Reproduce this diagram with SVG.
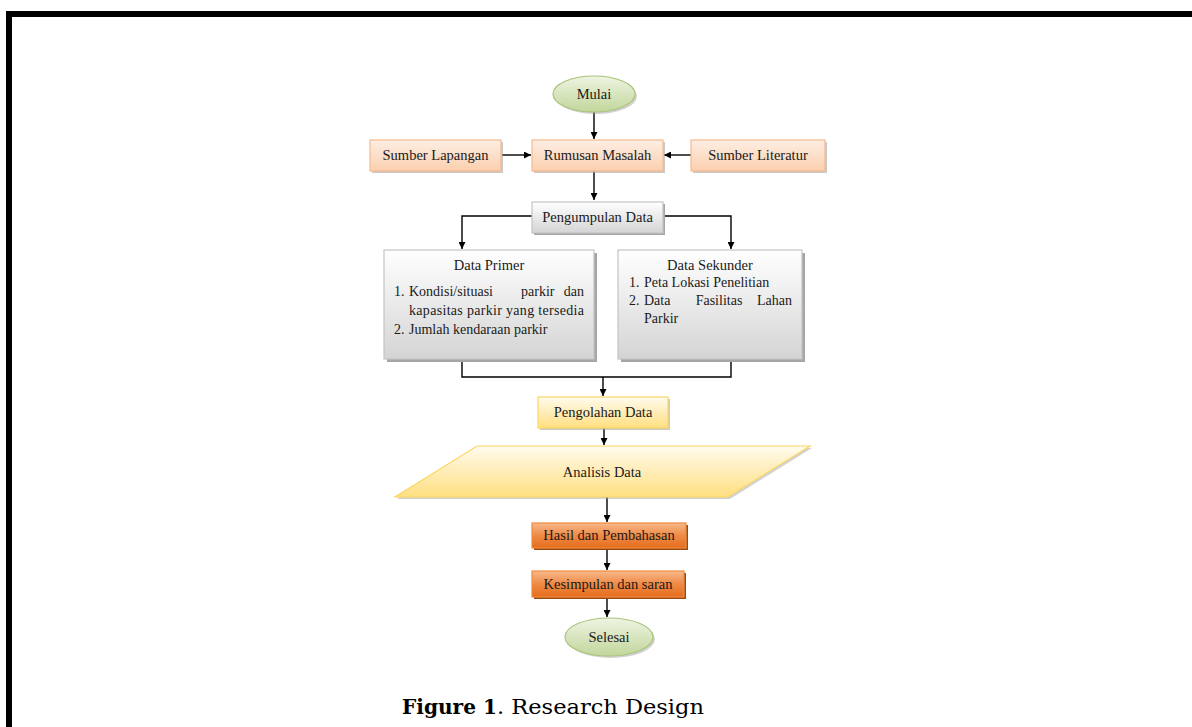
<svg xmlns="http://www.w3.org/2000/svg" width="1192" height="727" viewBox="0 0 1192 727">
<defs>
<linearGradient id="gGreen" x1="0" y1="0" x2="0" y2="1"><stop offset="0" stop-color="#eef4e2"/><stop offset="1" stop-color="#c2d69b"/></linearGradient>
<linearGradient id="gPeach" x1="0" y1="0" x2="0" y2="1"><stop offset="0" stop-color="#fdeee4"/><stop offset="1" stop-color="#fbcfae"/></linearGradient>
<linearGradient id="gGray" x1="0" y1="0" x2="0" y2="1"><stop offset="0" stop-color="#ffffff"/><stop offset="1" stop-color="#d4d4d4"/></linearGradient>
<linearGradient id="gYellow" x1="0" y1="0" x2="0" y2="1"><stop offset="0" stop-color="#fffbee"/><stop offset="1" stop-color="#ffdf80"/></linearGradient>
<linearGradient id="gOrange" x1="0" y1="0" x2="0" y2="1"><stop offset="0" stop-color="#f7b98c"/><stop offset="0.5" stop-color="#ef8a45"/><stop offset="1" stop-color="#e56d1d"/></linearGradient>
<marker id="arr" viewBox="0 0 10 10" refX="10" refY="5" markerWidth="7" markerHeight="7" markerUnits="userSpaceOnUse" orient="auto"><path d="M0,0 L10,5 L0,10 z" fill="#000"/></marker>
</defs>
<style>
text{font-family:"Liberation Serif","Times New Roman",serif;font-size:14.5px;fill:#1a1a1a}
.c{text-anchor:middle}
.e{text-anchor:end}
.b{font-size:14px}
.peach{fill:url(#gPeach);stroke:#f6b98e;stroke-width:1.2}
.gray{fill:url(#gGray);stroke:#c4c4c4;stroke-width:1.2}
.yel{fill:url(#gYellow);stroke:#fcd664;stroke-width:1.2}
.org{fill:url(#gOrange);stroke:#f08a3f;stroke-width:1.2}
.grn{fill:url(#gGreen);stroke:#a9c47a;stroke-width:1.2}
.sh{fill:#a6a6a6}
.shO{fill:#9a4a10}
.ln{fill:none;stroke:#000;stroke-width:1.4}
.cap{font-family:"DejaVu Serif",serif;font-size:20px;fill:#000}
</style>
<rect x="0" y="0" width="1192" height="727" fill="#fff"/>
<path d="M9,727 V14 H1192" fill="none" stroke="#000" stroke-width="6"/>

<g id="connectors">
<path class="ln" d="M594,112 V139" marker-end="url(#arr)"/>
<path class="ln" d="M502,155 H531" marker-end="url(#arr)"/>
<path class="ln" d="M691,155 H664" marker-end="url(#arr)"/>
<path class="ln" d="M594,171 V200" marker-end="url(#arr)"/>
<path class="ln" d="M532,216 H462 V249" marker-end="url(#arr)"/>
<path class="ln" d="M663,216 H731 V249" marker-end="url(#arr)"/>
<path class="ln" d="M462,359 V377 H731 V359"/>
<path class="ln" d="M603,377 V396" marker-end="url(#arr)"/>
<path class="ln" d="M604,428 V445" marker-end="url(#arr)"/>
<path class="ln" d="M607,497 V522" marker-end="url(#arr)"/>
<path class="ln" d="M607,548 V570" marker-end="url(#arr)"/>
<path class="ln" d="M607,597 V617" marker-end="url(#arr)"/>
</g>

<g id="mulai">
<ellipse cx="596" cy="96" rx="41" ry="18" class="sh" opacity="0.5"/>
<ellipse cx="594" cy="94" rx="41" ry="18" class="grn"/>
<text x="594" y="99" class="c">Mulai</text>
</g>

<g id="sumber-lapangan">
<rect x="372" y="142" width="131" height="31" class="sh" opacity="0.6"/>
<rect x="370" y="140" width="131" height="31" class="peach"/>
<text x="435.5" y="160" class="c">Sumber Lapangan</text>
</g>

<g id="rumusan-masalah">
<rect x="534" y="142" width="131" height="31" class="sh" opacity="0.6"/>
<rect x="532" y="140" width="131" height="31" class="peach"/>
<text x="597.5" y="160" class="c">Rumusan Masalah</text>
</g>

<g id="sumber-literatur">
<rect x="693" y="142" width="134" height="31" class="sh" opacity="0.6"/>
<rect x="691" y="140" width="134" height="31" class="peach"/>
<text x="758" y="160" class="c">Sumber Literatur</text>
</g>

<g id="pengumpulan-data">
<rect x="534" y="204" width="131" height="31" class="sh"/>
<rect x="532" y="202" width="131" height="31" class="gray"/>
<text x="597.5" y="222" class="c">Pengumpulan Data</text>
</g>

<g id="data-primer">
<rect x="387" y="253" width="210" height="109" class="sh"/>
<rect x="384" y="250" width="210" height="109" class="gray"/>
<text x="489" y="270" class="c">Data Primer</text>
<text x="394" y="296" class="b">1.</text>
<text x="409" y="296" class="b">Kondisi/situasi</text>
<text x="521" y="296" class="b">parkir</text>
<text x="584" y="296" class="b e">dan</text>
<text x="409" y="315" class="b" textLength="175" lengthAdjust="spacing">kapasitas parkir yang tersedia</text>
<text x="394" y="334" class="b">2.</text>
<text x="409" y="334" class="b">Jumlah kendaraan parkir</text>
</g>

<g id="data-sekunder">
<rect x="621" y="253" width="184" height="109" class="sh"/>
<rect x="618" y="250" width="184" height="109" class="gray"/>
<text x="710" y="270" class="c">Data Sekunder</text>
<text x="629" y="287" class="b">1.</text>
<text x="644" y="287" class="b">Peta Lokasi Penelitian</text>
<text x="629" y="305" class="b">2.</text>
<text x="644" y="305" class="b">Data</text>
<text x="719" y="305" class="b c">Fasilitas</text>
<text x="792" y="305" class="b e">Lahan</text>
<text x="644" y="323" class="b">Parkir</text>
</g>

<g id="pengolahan-data">
<rect x="540" y="399" width="130" height="31" class="sh" opacity="0.6"/>
<rect x="538" y="397" width="130" height="31" class="yel"/>
<text x="603" y="417" class="c">Pengolahan Data</text>
</g>

<g id="analisis-data">
<polygon points="479,448 812,448 730,499 397,499" class="sh" opacity="0.5"/>
<polygon points="477,446 810,446 728,497 395,497" class="yel"/>
<text x="602" y="477" class="c">Analisis Data</text>
</g>

<g id="hasil-pembahasan">
<rect x="534" y="525" width="154" height="25" class="shO"/>
<rect x="532" y="523" width="154" height="25" class="org"/>
<text x="609" y="540" class="c">Hasil dan Pembahasan</text>
</g>

<g id="kesimpulan-saran">
<rect x="534" y="573" width="152" height="26" class="shO"/>
<rect x="532" y="571" width="152" height="26" class="org"/>
<text x="608" y="589" class="c">Kesimpulan dan saran</text>
</g>

<g id="selesai">
<ellipse cx="611" cy="639" rx="44" ry="19" class="sh" opacity="0.5"/>
<ellipse cx="609" cy="637" rx="44" ry="19" class="grn"/>
<text x="609" y="642" class="c">Selesai</text>
</g>

<g id="caption">
<text x="402" y="714" class="cap" font-weight="bold" textLength="95" lengthAdjust="spacingAndGlyphs">Figure 1</text>
<text x="497" y="714" class="cap" textLength="207" lengthAdjust="spacingAndGlyphs">. Research Design</text>
</g>
</svg>
